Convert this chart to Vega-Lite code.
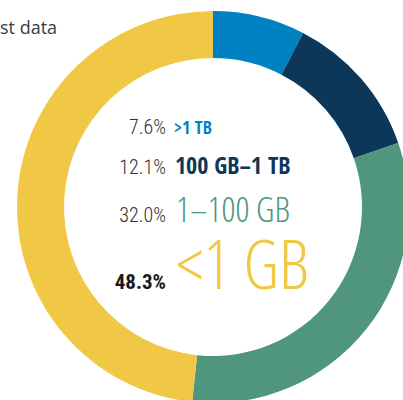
{
  "$schema": "https://vega.github.io/schema/vega-lite/v6.json",
  "width": 426,
  "height": 414,
  "autosize": "none",
  "padding": 0,
  "background": "white",
  "view": {"stroke": null},
  "title": {
    "text": "st data",
    "anchor": "start",
    "frame": "group",
    "orient": "top",
    "offset": -52,
    "baseline": "alphabetic",
    "font": "Open Sans",
    "fontSize": 18,
    "fontWeight": "normal",
    "color": "#3c3c3c"
  },
  "data": {
    "values": [
      {"label": ">1 TB", "share": 0.076, "order": 1},
      {"label": "100 GB–1 TB", "share": 0.121, "order": 2},
      {"label": "1–100 GB", "share": 0.320, "order": 3},
      {"label": "<1 GB", "share": 0.483, "order": 4}
    ]
  },
  "encoding": {
    "y": {
      "field": "share",
      "type": "quantitative",
      "axis": null,
      "scale": {"domain": [0.076, 0.121, 0.32, 0.483], "range": [134, 174, 222, 289], "zero": false, "nice": false}
    },
    "color": {
      "field": "label",
      "type": "nominal",
      "legend": null,
      "scale": {
        "domain": [">1 TB", "100 GB–1 TB", "1–100 GB", "<1 GB"],
        "range": ["#0081C2", "#0D3759", "#4F967D", "#F0C846"]
      }
    }
  },
  "layer": [
    {
      "mark": {"type": "arc", "innerRadius": 149, "outerRadius": 196},
      "encoding": {
        "y": null,
        "theta": {"field": "share", "type": "quantitative", "stack": true},
        "order": {"field": "order", "type": "quantitative"}
      }
    },
    {
      "transform": [{"filter": "datum.order < 4"}],
      "mark": {"type": "text", "align": "right", "baseline": "alphabetic", "dx": -47, "font": "Roboto Condensed, serif", "fontSize": 20, "fontWeight": 300},
      "encoding": {
        "text": {"field": "share", "type": "quantitative", "format": ".1%"},
        "color": {"value": "#333333"}
      }
    },
    {
      "transform": [{"filter": "datum.order == 4"}],
      "mark": {"type": "text", "align": "right", "baseline": "alphabetic", "dx": -47, "font": "Roboto Condensed, serif", "fontSize": 21, "fontWeight": "bold"},
      "encoding": {
        "text": {"field": "share", "type": "quantitative", "format": ".1%"},
        "color": {"value": "#1a1a1a"}
      }
    },
    {
      "transform": [{"filter": "datum.order == 1"}],
      "mark": {"type": "text", "align": "left", "baseline": "alphabetic", "dx": -39, "font": "Open Sans Condensed, serif", "fontSize": 18, "fontWeight": "bold"},
      "encoding": {"text": {"field": "label", "type": "nominal"}}
    },
    {
      "transform": [{"filter": "datum.order == 2"}],
      "mark": {"type": "text", "align": "left", "baseline": "alphabetic", "dx": -38, "font": "Open Sans Condensed, serif", "fontSize": 24, "fontWeight": "bold"},
      "encoding": {"text": {"field": "label", "type": "nominal"}}
    },
    {
      "transform": [{"filter": "datum.order == 3"}],
      "mark": {"type": "text", "align": "left", "baseline": "alphabetic", "dx": -37, "font": "Open Sans Condensed Light, serif", "fontSize": 35, "fontWeight": 300},
      "encoding": {"text": {"field": "label", "type": "nominal"}}
    },
    {
      "transform": [{"filter": "datum.order == 4"}],
      "mark": {"type": "text", "align": "left", "baseline": "alphabetic", "dx": -37, "font": "Open Sans Condensed Light, serif", "fontSize": 68, "fontWeight": 300},
      "encoding": {"text": {"field": "label", "type": "nominal"}}
    }
  ]
}
